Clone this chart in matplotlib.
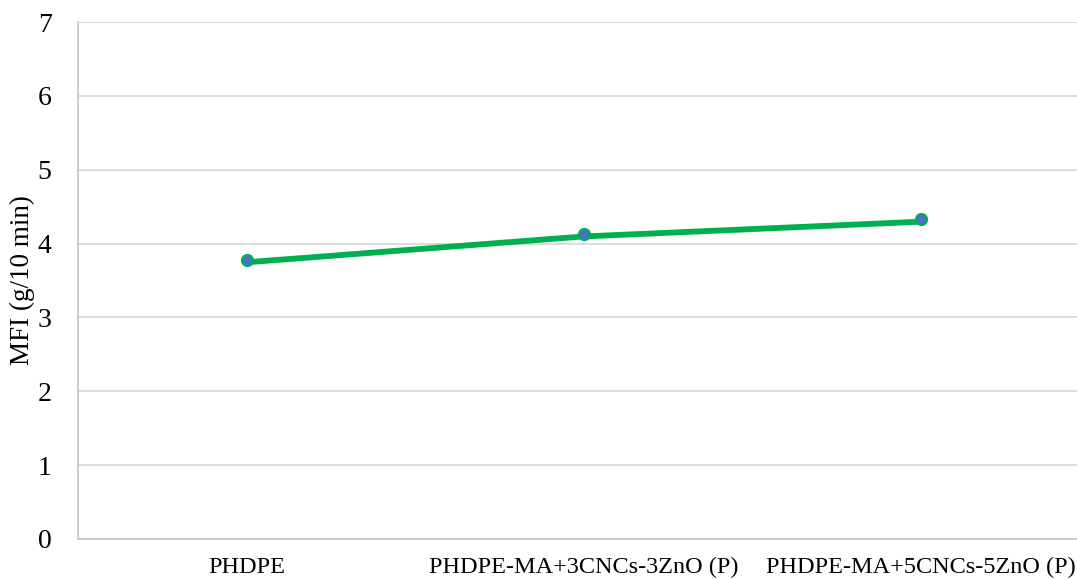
import matplotlib
matplotlib.use("Agg")
import matplotlib.pyplot as plt
import matplotlib.transforms as mtransforms

categories = ["PHDPE", "PHDPE-MA+3CNCs-3ZnO (P)", "PHDPE-MA+5CNCs-5ZnO (P)"]
mfi = [3.78, 4.13, 4.33]
y_ticks = [0, 1, 2, 3, 4, 5, 6, 7]

plt.rcParams["font.family"] = ["Liberation Serif", "DejaVu Serif"]

fig = plt.figure(figsize=(10.77, 5.79), dpi=100)
ax = fig.add_axes([78 / 1077, 40 / 579, 1011 / 1077, 517 / 579])

x = list(range(len(categories)))
# line sits a touch below the markers, as in the original
shift = mtransforms.ScaledTranslation(0, -2.5 / 100, fig.dpi_scale_trans)
ax.plot(x, mfi, color="#00b050", lw=4.2, solid_capstyle="round",
        transform=ax.transData + shift, zorder=3)
ax.plot(x, mfi, linestyle="none", marker="o", markersize=8,
        markerfacecolor="#4472c4", markeredgecolor="#00b050",
        markeredgewidth=1.5, zorder=4)

ax.set_xlim(-0.5, 2.5)
ax.set_ylim(0, 7)
ax.set_yticks(y_ticks)
ax.set_xticks(x)
ax.set_xticklabels(categories, fontsize=17.5)
ax.tick_params(axis="y", labelsize=20, length=0, pad=19)
ax.tick_params(axis="x", length=0, pad=13)
ax.set_ylabel("MFI (g/10 min)", fontsize=19.5)
ax.yaxis.set_label_coords(-43 / 1011, 0.5)

ax.grid(axis="y", color="#d9d9d9", lw=1.3)
ax.set_axisbelow(True)
for side in ["top", "right"]:
    ax.spines[side].set_visible(False)
for side in ["left", "bottom"]:
    ax.spines[side].set_color("#c8c8c8")
    ax.spines[side].set_linewidth(1.3)

fig.savefig("out.png", dpi=100)
